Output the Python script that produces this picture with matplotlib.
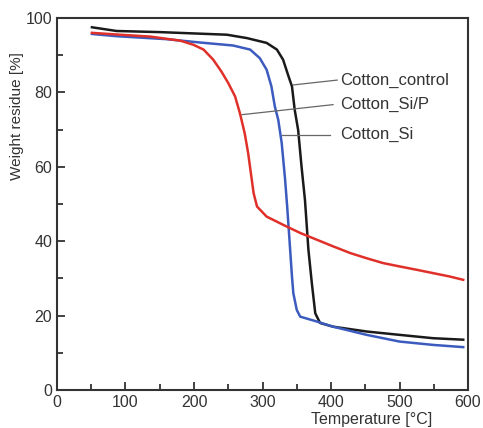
import matplotlib

matplotlib.use("Agg")
import matplotlib.pyplot as plt
from matplotlib.ticker import MultipleLocator

# temperature [°C] and weight residue [%]
control_t = [51, 87, 150, 248, 277, 306, 321, 330, 338, 343, 347, 352, 357, 362,
             367, 372, 377, 384, 403, 452, 500, 549, 593]
control_w = [97.5, 96.5, 96.2, 95.5, 94.6, 93.3, 91.5, 88.8, 84.3, 81.6, 75.3,
             69.9, 60.0, 51.0, 37.7, 28.7, 20.6, 18.0, 17.0, 15.7, 14.8, 13.9, 13.5]

si_t = [51, 87, 160, 209, 257, 282, 296, 306, 313, 318, 323, 328, 333, 336, 339,
        343, 345, 350, 355, 379, 403, 452, 500, 549, 593]
si_w = [95.7, 95.1, 94.3, 93.4, 92.6, 91.5, 89.2, 86.1, 81.6, 76.2, 72.6, 66.4,
        56.5, 49.3, 41.3, 30.5, 26.0, 21.5, 19.7, 18.4, 17.0, 14.8, 13.0, 12.1, 11.5]

sip_t = [51, 100, 136, 180, 199, 214, 228, 240, 250, 260, 267, 274, 279, 283,
         287, 292, 306, 330, 355, 379, 403, 428, 452, 476, 500, 525, 549, 573, 593]
sip_w = [96.0, 95.4, 95.0, 93.9, 92.8, 91.5, 88.8, 85.6, 82.5, 78.9, 74.4, 69.0,
         63.7, 58.3, 52.9, 49.3, 46.6, 44.4, 42.2, 40.4, 38.6, 36.8, 35.4, 34.1,
         33.2, 32.3, 31.4, 30.5, 29.6]

labels = ["Cotton_control", "Cotton_Si/P", "Cotton_Si"]
# (point on curve, end of leader line)
leaders = [((345, 82.0), (409, 83.3)),
           ((270, 74.0), (403, 76.7)),
           ((329, 68.6), (398, 68.6))]

plt.rcParams["font.family"] = ["Liberation Sans", "DejaVu Sans"]
plt.rcParams["font.size"] = 11.5
dark = "#333333"

fig = plt.figure(figsize=(4.83, 4.28), dpi=100)
ax = fig.add_axes([0.118, 0.089, 0.851, 0.869])

ax.plot(control_t, control_w, color="#1a1a1a", lw=1.8)
ax.plot(si_t, si_w, color="#3b5bbf", lw=1.8)
ax.plot(sip_t, sip_w, color="#e0302a", lw=1.8)

for text, (p0, p1) in zip(labels, leaders):
    ax.plot([p0[0], p1[0]], [p0[1], p1[1]], color="#666666", lw=0.9)
    ax.text(413, p1[1], text, va="center", ha="left", color=dark, fontsize=12)

ax.set_xlim(0, 600)
ax.set_ylim(0, 100)
ax.xaxis.set_major_locator(MultipleLocator(100))
ax.xaxis.set_minor_locator(MultipleLocator(50))
ax.yaxis.set_major_locator(MultipleLocator(20))
ax.yaxis.set_minor_locator(MultipleLocator(10))
ax.tick_params(which="both", direction="in", colors=dark, width=1.3)
ax.tick_params(which="major", length=6)
ax.tick_params(which="minor", length=4)
for s in ax.spines.values():
    s.set_linewidth(1.5)
    s.set_color(dark)

ax.set_xlabel("Temperature [°C]", color=dark, ha="center")
ax.xaxis.set_label_coords(0.765, -0.06)
ax.set_ylabel("Weight residue [%]", color=dark, fontsize=11)
ax.yaxis.set_label_coords(-0.08, 0.735)

fig.savefig("out.png", dpi=100)
